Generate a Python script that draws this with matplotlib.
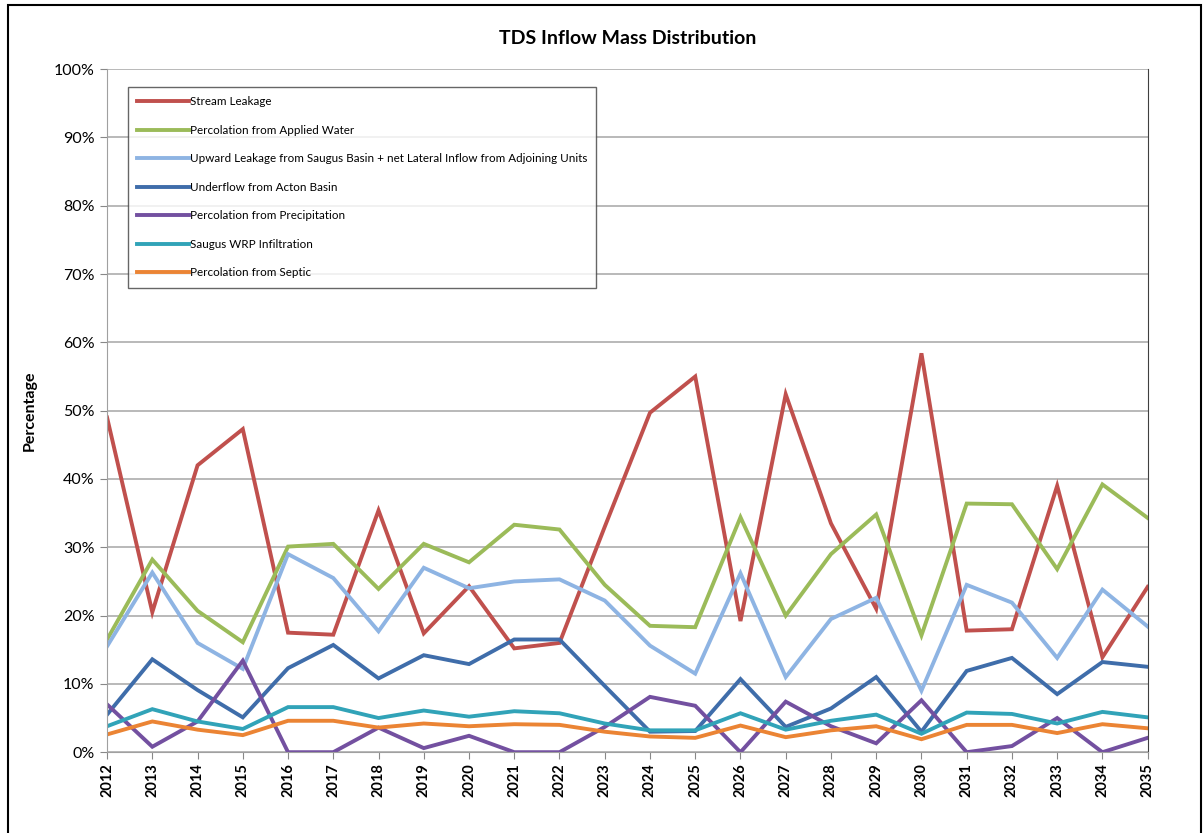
import matplotlib
matplotlib.use("Agg")
import matplotlib.pyplot as plt
from matplotlib.patches import Rectangle
from matplotlib.ticker import FuncFormatter

plt.rcParams['font.family'] = ['Lato', 'DejaVu Sans']

years = list(range(2012, 2036))

stream_leakage = [49.0, 20.5, 42.0, 47.3, 17.5, 17.2, 35.4, 17.4, 24.3, 15.2, 16.0, 33.0,
                  49.7, 55.0, 19.2, 52.4, 33.5, 21.0, 58.4, 17.8, 18.0, 39.0, 13.9, 24.2]
applied_water = [16.5, 28.2, 20.7, 16.1, 30.1, 30.5, 23.9, 30.5, 27.8, 33.3, 32.6, 24.5,
                 18.5, 18.3, 34.4, 20.0, 29.0, 34.8, 17.1, 36.4, 36.3, 26.8, 39.2, 34.3]
upward_leakage = [15.5, 26.3, 16.0, 12.2, 29.0, 25.5, 17.7, 27.0, 24.0, 25.0, 25.3, 22.2,
                  15.6, 11.5, 26.2, 11.0, 19.5, 22.6, 9.0, 24.5, 21.9, 13.8, 23.8, 18.4]
acton_underflow = [5.5, 13.6, 9.1, 5.1, 12.3, 15.7, 10.8, 14.2, 12.9, 16.5, 16.5, 9.7,
                   3.0, 3.1, 10.7, 3.7, 6.4, 11.0, 3.0, 11.9, 13.8, 8.5, 13.2, 12.5]
precipitation = [7.0, 0.8, 4.5, 13.4, 0.0, 0.0, 3.6, 0.6, 2.4, 0.0, 0.0, 3.7,
                 8.1, 6.8, 0.0, 7.4, 3.8, 1.3, 7.6, 0.0, 0.9, 5.0, 0.0, 2.1]
saugus_wrp = [3.8, 6.3, 4.5, 3.4, 6.6, 6.6, 5.0, 6.1, 5.2, 6.0, 5.7, 4.2,
              3.2, 3.2, 5.7, 3.3, 4.6, 5.5, 2.7, 5.8, 5.6, 4.2, 5.9, 5.1]
septic = [2.6, 4.5, 3.3, 2.5, 4.6, 4.6, 3.6, 4.2, 3.8, 4.1, 4.0, 3.0,
          2.3, 2.1, 3.9, 2.2, 3.2, 3.8, 1.9, 4.0, 4.0, 2.8, 4.1, 3.5]

series = [
    ("Stream Leakage", stream_leakage, "#C0504D"),
    ("Percolation from Applied Water", applied_water, "#9BBB59"),
    ("Upward Leakage from Saugus Basin + net Lateral Inflow from Adjoining Units", upward_leakage, "#8EB4E3"),
    ("Underflow from Acton Basin", acton_underflow, "#3F6DAA"),
    ("Percolation from Precipitation", precipitation, "#7350A0"),
    ("Saugus WRP Infiltration", saugus_wrp, "#31A3B8"),
    ("Percolation from Septic", septic, "#EB8434"),
]

fig = plt.figure(figsize=(12.03, 8.33), dpi=100)
ax = fig.add_axes([0.089, 0.097, 0.865, 0.820])

x = list(range(len(years)))
for name, vals, col in series:
    ax.plot(x, vals, color=col, lw=2.8, label=name, solid_joinstyle='miter')

ax.set_xlim(0, len(years) - 1)
ax.set_ylim(0, 100)
ax.set_yticks(range(0, 101, 10))
ax.yaxis.set_major_formatter(FuncFormatter(lambda v, p: "%d%%" % v))
ax.set_xticks(x)
ax.set_xticklabels([str(y) for y in years], rotation=90, fontweight='bold', fontsize=10.5)
ax.tick_params(axis='y', labelsize=11.5, length=5, color='#888888', pad=4)
ax.tick_params(axis='x', length=5, color='#888888', pad=3)
ax.grid(axis='y', color='#A6A6A6', lw=1.1)
ax.set_axisbelow(True)
for side in ['left', 'bottom', 'top']:
    ax.spines[side].set_color('#A0A0A0')
ax.spines['right'].set_color('#404040')
ax.spines['top'].set_visible(False)

ax.set_ylabel("Percentage", fontweight='bold', fontsize=11.5, labelpad=12)
ax.set_title("TDS Inflow Mass Distribution", fontweight='bold', fontsize=14, pad=18)

leg = ax.legend(loc='upper left', bbox_to_anchor=(0.02, 0.974), fontsize=8.4,
                handlelength=4.4, handletextpad=0.1, labelspacing=1.5,
                borderpad=0.8, frameon=True, fancybox=False, borderaxespad=0)
leg.get_frame().set_edgecolor('#404040')
leg.get_frame().set_linewidth(1.0)

# outer border of the figure
fig.patches.append(Rectangle((0.007, -0.01), 0.991, 1.004, transform=fig.transFigure,
                             fill=False, edgecolor='black', lw=1.5))

fig.savefig("out.png", dpi=100)
